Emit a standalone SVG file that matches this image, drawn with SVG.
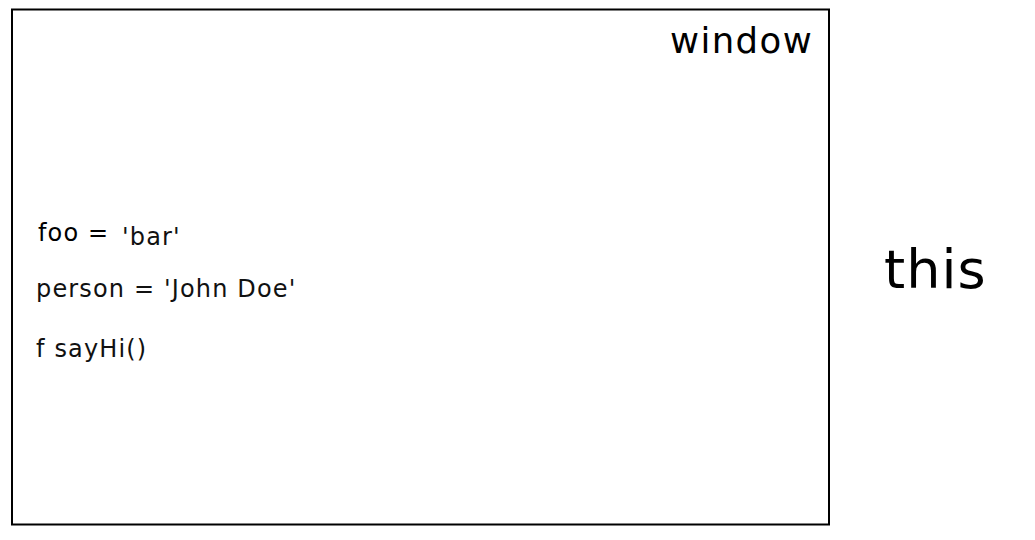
<svg xmlns="http://www.w3.org/2000/svg" width="1035" height="540" viewBox="0 0 1035 540">
<style>
text{font-family:"DejaVu Sans",sans-serif;}
.lbl{font-size:24px;letter-spacing:1.15px;fill:#111;}
</style>
<rect width="1035" height="540" fill="#fff"/>
<g id="window">
<rect x="12" y="9.5" width="817" height="515" fill="none" stroke="#000" stroke-width="2"/>
<text x="670" y="53" font-size="35.5" letter-spacing="1.4" fill="#000">window</text>
</g>
<g id="foo">
<text x="38" y="241" class="lbl" style="fill:#000">foo =</text>
<text x="122" y="245" class="lbl">'bar'</text>
</g>
<g id="person">
<text x="36" y="297" class="lbl">person = 'John Doe'</text>
</g>
<g id="sayHi">
<text x="36" y="357" class="lbl">f sayHi()</text>
</g>
<g id="this">
<text x="884" y="288" font-size="54" letter-spacing="1" fill="#000">this</text>
</g>
<g id="connectors"/>
</svg>
